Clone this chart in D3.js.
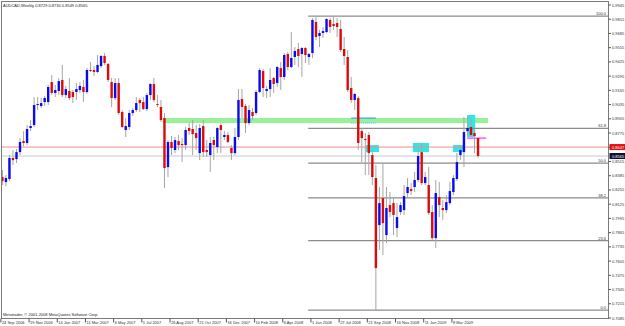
<!DOCTYPE html>
<html>
<head>
<meta charset="utf-8">
<script src="https://cdn.jsdelivr.net/npm/d3@7"></script>
<style>
  body { margin: 0; background: #fff; }
  svg { display: block; }
  text { font-family: "Liberation Sans", Arial, sans-serif; }
</style>
</head>
<body>
<svg id="chart" width="625" height="326"></svg>
<script>
// weekly AUDCAD bars, 24 Sep 2006 .. Apr 2009
const opens = [0.8373,0.8327,0.8355,0.8547,0.8537,0.8601,0.8702,0.8684,0.8821,0.8848,
  0.9031,0.9022,0.9058,0.9058,0.9241,0.9141,0.9159,0.9260,0.9122,0.9159,
  0.9150,0.9150,0.9168,0.9196,0.9150,0.9351,0.9351,0.9333,0.9387,0.9479,
  0.9406,0.9241,0.9095,0.9232,0.8967,0.8803,0.8830,0.8958,0.8985,0.9077,
  0.9058,0.8994,0.9122,0.9223,0.9040,0.9013,0.8912,0.8464,0.8693,0.8620,
  0.8702,0.8675,0.8665,0.8821,0.8812,0.8775,0.8592,0.8839,0.8620,0.8574,
  0.8711,0.8647,0.8848,0.8739,0.8757,0.8638,0.8592,0.8739,0.9086,0.9022,
  0.8866,0.8967,0.8958,0.9150,0.9342,0.9159,0.9177,0.9278,0.9232,0.9369,
  0.9287,0.9497,0.9378,0.9470,0.9543,0.9497,0.9552,0.9470,0.9506,0.9790,
  0.9662,0.9689,0.9698,0.9808,0.9771,0.9780,0.9726,0.9543,0.9470,0.9186,
  0.9077,0.9095,0.8793,0.8720,0.8757,0.8574,0.8364,0.7934,0.8181,0.7843,
  0.8117,0.8135,0.7907,0.8053,0.8071,0.8227,0.8263,0.8282,0.8346,0.8601,
  0.8318,0.8300,0.8053,0.7815,0.8190,0.8090,0.8071,0.8135,0.8236,0.8355,
  0.8574,0.8601,0.8793,0.8830,0.8775,0.8729];
const highs = [0.8437,0.8391,0.8574,0.8620,0.8629,0.8729,0.8793,0.8848,0.8894,0.9104,
  0.9104,0.9095,0.9113,0.9214,0.9305,0.9214,0.9278,0.9397,0.9205,0.9278,
  0.9168,0.9232,0.9241,0.9260,0.9369,0.9424,0.9387,0.9488,0.9488,0.9506,
  0.9415,0.9278,0.9278,0.9278,0.8985,0.8912,0.8985,0.9004,0.9104,0.9095,
  0.9104,0.9141,0.9232,0.9278,0.9122,0.9077,0.8958,0.8711,0.8748,0.8739,
  0.8757,0.8729,0.8830,0.8866,0.8894,0.8848,0.8857,0.8894,0.8711,0.8739,
  0.8739,0.8830,0.8866,0.8793,0.8784,0.8665,0.8821,0.9177,0.9177,0.9040,
  0.9031,0.9004,0.9168,0.9369,0.9360,0.9205,0.9369,0.9287,0.9387,0.9424,
  0.9506,0.9515,0.9698,0.9561,0.9598,0.9561,0.9561,0.9506,0.9826,0.9835,
  0.9717,0.9744,0.9826,0.9826,0.9844,0.9826,0.9808,0.9653,0.9534,0.9287,
  0.9141,0.9113,0.8821,0.8775,0.8784,0.8620,0.8483,0.8282,0.8501,0.8282,
  0.8236,0.8190,0.8135,0.8144,0.8300,0.8364,0.8318,0.8419,0.8638,0.8684,
  0.8419,0.8464,0.8117,0.8346,0.8327,0.8163,0.8208,0.8327,0.8391,0.8592,
  0.8665,0.8921,0.8930,0.8921,0.8803,0.8730];
const lows = [0.8300,0.8291,0.8336,0.8483,0.8501,0.8574,0.8656,0.8665,0.8793,0.8830,
  0.8985,0.9004,0.9022,0.9031,0.9122,0.9104,0.9122,0.9104,0.9095,0.9077,
  0.9049,0.9077,0.9141,0.9058,0.9132,0.9333,0.9296,0.9323,0.9369,0.9397,
  0.9241,0.9013,0.9077,0.8940,0.8821,0.8739,0.8803,0.8930,0.8967,0.8967,
  0.8985,0.8976,0.9077,0.9058,0.9013,0.8876,0.8272,0.8373,0.8574,0.8592,
  0.8620,0.8510,0.8620,0.8757,0.8574,0.8620,0.8528,0.8556,0.8556,0.8419,
  0.8528,0.8592,0.8592,0.8711,0.8684,0.8528,0.8574,0.8711,0.8912,0.8775,
  0.8848,0.8894,0.8940,0.9141,0.9104,0.9095,0.9104,0.9141,0.9196,0.9168,
  0.9260,0.9351,0.9369,0.9397,0.9378,0.9287,0.9415,0.9397,0.9461,0.9625,
  0.9561,0.9643,0.9689,0.9689,0.9717,0.9653,0.9515,0.9397,0.9150,0.9049,
  0.8985,0.8620,0.8510,0.8391,0.8391,0.8300,0.7157,0.7706,0.7660,0.7770,
  0.8007,0.7843,0.7825,0.8026,0.8026,0.8181,0.8208,0.8236,0.8327,0.8300,
  0.8300,0.8026,0.7797,0.7724,0.8007,0.7980,0.8044,0.8117,0.8208,0.8336,
  0.8528,0.8464,0.8757,0.8739,0.8592,0.8549];
const closes = [0.8336,0.8364,0.8547,0.8528,0.8601,0.8693,0.8684,0.8812,0.8839,0.9031,
  0.9040,0.9049,0.9095,0.9196,0.9141,0.9168,0.9250,0.9122,0.9177,0.9095,
  0.9104,0.9177,0.9205,0.9150,0.9351,0.9342,0.9333,0.9397,0.9479,0.9415,
  0.9260,0.9095,0.9232,0.8958,0.8830,0.8839,0.8958,0.8985,0.9049,0.9049,
  0.8994,0.9122,0.9223,0.9077,0.9031,0.8894,0.8455,0.8693,0.8638,0.8711,
  0.8665,0.8665,0.8803,0.8793,0.8766,0.8729,0.8821,0.8601,0.8601,0.8684,
  0.8665,0.8821,0.8803,0.8757,0.8693,0.8592,0.8739,0.9077,0.9013,0.8866,
  0.8985,0.8930,0.9150,0.9351,0.9186,0.9177,0.9260,0.9223,0.9378,0.9287,
  0.9488,0.9378,0.9461,0.9525,0.9479,0.9552,0.9488,0.9497,0.9808,0.9653,
  0.9689,0.9707,0.9817,0.9744,0.9753,0.9744,0.9534,0.9479,0.9168,0.9077,
  0.9132,0.8684,0.8729,0.8711,0.8592,0.8373,0.7541,0.8135,0.7952,0.8090,
  0.8053,0.8026,0.8007,0.8117,0.8199,0.8282,0.8245,0.8346,0.8565,0.8318,
  0.8373,0.8044,0.7815,0.8227,0.8117,0.8071,0.8144,0.8245,0.8364,0.8510,
  0.8620,0.8784,0.8821,0.8757,0.8748,0.8565];

const dateTicks = [0, 8, 16, 24, 32, 40, 48, 56, 64, 72, 80, 88, 96, 104, 112, 120, 128];
const dateLabels = ["24 Sep 2006", "19 Nov 2006", "14 Jan 2007", "11 Mar 2007", "6 May 2007",
  "1 Jul 2007", "26 Aug 2007", "21 Oct 2007", "16 Dec 2007", "10 Feb 2008", "6 Apr 2008",
  "1 Jun 2008", "27 Jul 2008", "21 Sep 2008", "16 Nov 2008", "11 Jan 2009", "8 Mar 2009"];
const priceTicks = [0.9945, 0.9815, 0.9685, 0.9555, 0.9425, 0.9295, 0.9165, 0.9035, 0.8905,
  0.8775, 0.8645, 0.8515, 0.8385, 0.8255, 0.8125, 0.7995, 0.7865, 0.7735, 0.7605, 0.7475,
  0.7345, 0.7215, 0.7085];

// fibonacci retracement between the 2008 high and low
const fibRatios = [0, 23.6, 38.2, 50, 61.8, 100];
const fibHigh = 0.9844, fibLow = 0.7157, fibStartBar = 86.8;

const bidPrice = 0.8565, alertPrice = 0.8647;
const zoneBars = [45.6, 137.8], zonePrices = [0.8912, 0.8866];
const cyanBars = [[103.2, 106.9], [116.5, 121.1], [127.9, 130.7], [131.9, 134.2]];
const cyanPrices = [[0.8665, 0.8601], [0.8684, 0.8601], [0.8665, 0.8601], [0.8940, 0.8739]];
const outlineBars = [99, 106], outlinePrices = [0.8912, 0.8866];
const pinkBars = [131.9, 137.3], pinkPrice = 0.8729;

const svg = d3.select("#chart");
const pLeft = 1.5, pRight = 608.5, pTop = 1.5, pBottom = 318.5;

const x = d3.scaleLinear().domain([0, 172]).range([2.4, 608.4]);
const y = d3.scaleLinear().domain([0.7085, 0.9945]).range([318, 5]);

svg.append("defs").append("clipPath").attr("id", "plot")
  .append("rect").attr("x", pLeft).attr("y", pTop)
  .attr("width", pRight - pLeft).attr("height", pBottom - pTop);

const plot = svg.append("g").attr("clip-path", "url(#plot)");

// background objects
plot.append("rect")
  .attr("x", x(zoneBars[0])).attr("width", x(zoneBars[1]) - x(zoneBars[0]))
  .attr("y", y(zonePrices[0])).attr("height", y(zonePrices[1]) - y(zonePrices[0]))
  .attr("fill", "#98f098");

plot.selectAll("rect.cyan")
  .data(cyanBars)
  .enter()
  .append("rect")
  .attr("class", "cyan")
  .attr("x", d => x(d[0]))
  .attr("width", d => x(d[1]) - x(d[0]))
  .attr("y", (d, i) => y(cyanPrices[i][0]))
  .attr("height", (d, i) => y(cyanPrices[i][1]) - y(cyanPrices[i][0]))
  .attr("fill", "#2ee8e8");

plot.append("line")
  .attr("x1", x(outlineBars[0])).attr("x2", x(outlineBars[1]))
  .attr("y1", y(outlinePrices[0])).attr("y2", y(outlinePrices[0]))
  .attr("stroke", "#1e90ff").attr("stroke-width", 1);
plot.append("line")
  .attr("x1", x(outlineBars[0])).attr("x2", x(outlineBars[1]))
  .attr("y1", y(outlinePrices[1])).attr("y2", y(outlinePrices[1]))
  .attr("stroke", "#40c0ff").attr("stroke-width", 1).attr("stroke-dasharray", "1,1");

plot.append("line")
  .attr("x1", pLeft).attr("x2", pRight)
  .attr("y1", y(alertPrice)).attr("y2", y(alertPrice))
  .attr("stroke", "#f08a8a").attr("stroke-width", 1);
plot.append("line")
  .attr("x1", pLeft).attr("x2", pRight)
  .attr("y1", y(bidPrice)).attr("y2", y(bidPrice))
  .attr("stroke", "#c4cad8").attr("stroke-width", 1);

const fibs = fibRatios.map(r => ({ r, p: fibLow + (fibHigh - fibLow) * r / 100 }));
plot.selectAll("line.fib")
  .data(fibs)
  .enter()
  .append("line")
  .attr("class", "fib")
  .attr("x1", x(fibStartBar)).attr("x2", pRight)
  .attr("y1", d => y(d.p)).attr("y2", d => y(d.p))
  .attr("stroke", "#8c8c8c").attr("stroke-width", 1.2);
plot.selectAll("text.fib")
  .data(fibs)
  .enter()
  .append("text")
  .attr("class", "fib")
  .attr("x", 606).attr("y", d => y(d.p) - 1.2)
  .attr("text-anchor", "end")
  .attr("font-size", 4)
  .attr("fill", "#333")
  .text(d => d.r.toFixed(1));

plot.append("line")
  .attr("x1", x(pinkBars[0])).attr("x2", x(pinkBars[1]))
  .attr("y1", y(pinkPrice)).attr("y2", y(pinkPrice))
  .attr("stroke", "#ff33ff").attr("stroke-width", 1.2);

// candles
const bars = opens.map((o, i) => ({ i, o, h: highs[i], l: lows[i], c: closes[i] }));
const bodyColor = d => d.c > d.o ? "#0a0aee" : (d.c < d.o ? "#dd0a0a" : "#222255");

plot.selectAll("rect.wick")
  .data(bars)
  .enter()
  .append("rect")
  .attr("class", "wick")
  .attr("x", d => x(d.i) - 0.5)
  .attr("width", 1)
  .attr("y", d => y(d.h))
  .attr("height", d => y(d.l) - y(d.h))
  .attr("fill", "#a6a6a6");

plot.selectAll("rect.body")
  .data(bars)
  .enter()
  .append("rect")
  .attr("class", "body")
  .attr("x", d => x(d.i) - 1.2)
  .attr("width", 2.4)
  .attr("y", d => y(Math.max(d.o, d.c)))
  .attr("height", d => Math.max(1, Math.abs(y(d.o) - y(d.c))))
  .attr("fill", bodyColor);

// frame
svg.append("rect")
  .attr("x", pLeft).attr("y", pTop)
  .attr("width", pRight - pLeft).attr("height", pBottom - pTop)
  .attr("fill", "none").attr("stroke", "#7a7a7a").attr("stroke-width", 1);

// price axis
const yTicks = svg.append("g");
yTicks.selectAll("line")
  .data(priceTicks)
  .enter()
  .append("line")
  .attr("x1", pRight).attr("x2", pRight + 2.5)
  .attr("y1", d => y(d)).attr("y2", d => y(d))
  .attr("stroke", "#555");
yTicks.selectAll("text")
  .data(priceTicks)
  .enter()
  .append("text")
  .attr("x", 612).attr("y", d => y(d) + 1.5)
  .attr("font-size", 4)
  .attr("fill", "#333")
  .text(d => d.toFixed(4));

// current price markers
const markers = [{ p: alertPrice, fill: "#e01010" }, { p: bidPrice, fill: "#101030" }];
markers.forEach(m => {
  svg.append("rect")
    .attr("x", 609.5).attr("y", y(m.p) - 3)
    .attr("width", 15.5).attr("height", 6)
    .attr("fill", m.fill);
  svg.append("text")
    .attr("x", 612).attr("y", y(m.p) + 1.5)
    .attr("font-size", 4)
    .attr("fill", "#fff")
    .text(m.p.toFixed(4));
});

// time axis
const xTicks = svg.append("g");
xTicks.selectAll("line")
  .data(dateTicks)
  .enter()
  .append("line")
  .attr("x1", d => x(d) - 1.5).attr("x2", d => x(d) - 1.5)
  .attr("y1", pBottom).attr("y2", pBottom + 4)
  .attr("stroke", "#555");
xTicks.selectAll("text")
  .data(dateTicks)
  .enter()
  .append("text")
  .attr("x", d => x(d) - 0.5).attr("y", 324)
  .attr("font-size", 4)
  .attr("fill", "#333")
  .text((d, i) => dateLabels[i]);

svg.append("text")
  .attr("x", 3).attr("y", 7)
  .attr("font-size", 4).attr("fill", "#222")
  .text("AUDCAD,Weekly  0.8729 0.8730 0.8549 0.8565");
svg.append("text")
  .attr("x", 3).attr("y", 316)
  .attr("font-size", 4).attr("fill", "#222")
  .text("Metatrader, © 2001-2008 MetaQuotes Software Corp.");
</script>
</body>
</html>
